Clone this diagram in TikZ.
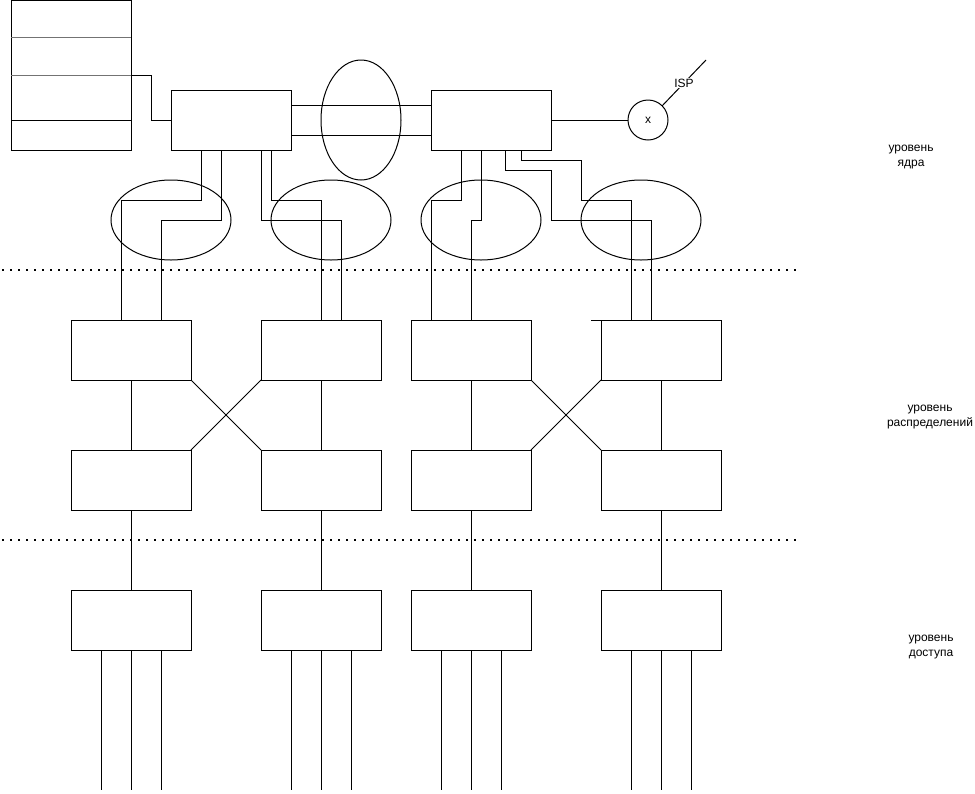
\documentclass[tikz,border=0pt]{standalone}
\usepackage{fontspec}
\setmainfont{Liberation Sans}
\usetikzlibrary{positioning,shapes.geometric}

\begin{document}
\begin{tikzpicture}[
  x=1pt, y=-1pt, line width=1pt,
  switch/.style={draw, minimum width=120pt, minimum height=60pt, inner sep=0pt, outer sep=0pt},
  ring/.style={draw, ellipse, inner sep=0pt, outer sep=0pt},
  levelsep/.style={line width=2pt, dash pattern=on 2pt off 6pt},
  note/.style={align=center, font=\fontsize{12}{15}\selectfont}
]
\useasboundingbox (0,0) rectangle (975,793);

% core
\node[draw, minimum width=120pt, minimum height=150pt, inner sep=0pt, outer sep=0pt] (stack) at (71,75) {};
\draw[black!55] ([yshift=-37.5pt]stack.north west) -- ([yshift=-37.5pt]stack.north east);
\draw[black!55] ([yshift=-75pt]stack.north west) -- ([yshift=-75pt]stack.north east);
\draw ([yshift=30pt]stack.south west) -- ([yshift=30pt]stack.south east);

\node[switch] (core1) at (231,120) {};
\node[switch, right=140pt of core1] (core2) {};
\node[ring, minimum width=80pt, minimum height=120pt] (trunk) at (361,120) {};
\node[draw, circle, minimum size=40pt, inner sep=0pt, outer sep=0pt, note] (isp) at (648,120) {x};
\coordinate (ispend) at (706,60);

\draw (stack.east) -- ++(20,0) |- (core1.west);
\draw ([yshift=15pt]core1.east) -- ([yshift=15pt]core2.west);
\draw ([yshift=-15pt]core1.east) -- ([yshift=-15pt]core2.west);
\draw (core2.east) -- (isp.west);
\draw (isp.45) -- node[note, fill=white, inner sep=1pt] {ISP} (ispend);

% distribution
\node[switch] (dist1) at (131,350) {};
\node[switch, right=70pt of dist1] (dist2) {};
\node[switch, right=30pt of dist2] (dist3) {};
\node[switch, right=70pt of dist3] (dist4) {};
\foreach \i in {1,...,4} {
  \node[switch, below=70pt of dist\i] (agg\i) {};
  \node[switch, below=80pt of agg\i] (acc\i) {};
}

\foreach \x/\n in {171/1,331/2,481/3,641/4}
  \node[ring, minimum width=120pt, minimum height=80pt] (pair\n) at (\x,220) {};

\draw ([xshift=30pt]core1.south west) -- ++(0,50) -| ([xshift=50pt]dist1.north west);
\draw ([xshift=50pt]core1.south west) -- ++(0,70) -| ([xshift=90pt]dist1.north west);
\draw ([xshift=90pt]core1.south west) -- ++(0,70) -| ([xshift=80pt]dist2.north west);
\draw ([xshift=100pt]core1.south west) -- ++(0,50) -| ([xshift=60pt]dist2.north west);
\draw ([xshift=30pt]core2.south west) -- ++(0,50) -| ([xshift=20pt]dist3.north west);
\draw ([xshift=50pt]core2.south west) -- ++(0,70) -| ([xshift=60pt]dist3.north west);
\draw ([xshift=74pt]core2.south west) -- ++(0,20) -- ++(46,0) -- ++(0,50) -| ([xshift=50pt]dist4.north west);
\draw ([xshift=90pt]core2.south west) -- ++(0,10) -- ++(60,0) -- ++(0,40) -| ([xshift=30pt]dist4.north west);
\draw (dist4.north west) -- ++(-10,0);

\foreach \i in {1,...,4} {
  \draw (dist\i.south) -- (agg\i.north);
  \draw (agg\i.south) -- (acc\i.north);
  \foreach \dx in {-30,0,30}
    \draw ([xshift=\dx pt]acc\i.south) -- ++(0,140);
}
\draw (dist1.south east) -- (agg2.north west);
\draw (dist2.south west) -- (agg1.north east);
\draw (dist3.south east) -- (agg4.north west);
\draw (dist4.south west) -- (agg3.north east);

\draw[levelsep] (2,270) -- (796,270);
\draw[levelsep] (2,540) -- (796,540);

\node[note] (lcore) at (911,157) {уровень\\ядра};
\node[note] (ldist) at (930,417) {уровень\\распределений};
\node[note] (lacc) at (931,647) {уровень\\доступа};

\end{tikzpicture}
\end{document}
